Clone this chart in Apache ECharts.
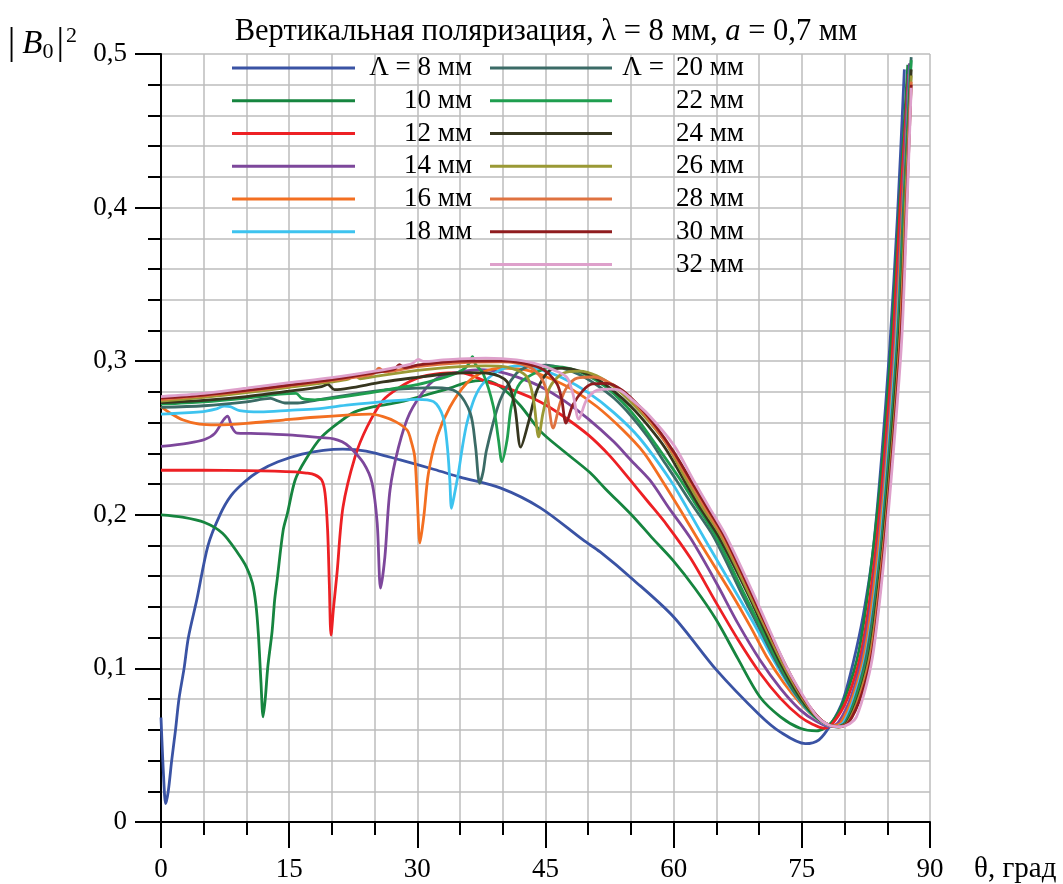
<!DOCTYPE html>
<html>
<head>
<meta charset="utf-8">
<script src="https://cdn.jsdelivr.net/npm/echarts@6/dist/echarts.min.js"></script>
<style>html,body{margin:0;padding:0;background:#fff}#c{width:1063px;height:884px}</style>
</head>
<body>
<div id="c"></div>
<script>
// Λ values (mm) and their series names
const periods = ['8 мм','10 мм','12 мм','14 мм','16 мм','18 мм','20 мм','22 мм','24 мм','26 мм','28 мм','30 мм','32 мм'];
const colors = ['#3a53a4','#16853f','#ed2024','#7d479b','#f36f21','#3dc3ef','#3b6b66','#1f9e4f','#36361f','#9a9935','#df7240','#8f1c1f','#dea0cb'];
const xTicks = [0,15,30,45,60,75,90];
const yTicks = [0,0.1,0.2,0.3,0.4,0.5];

// [theta (deg), |B0|^2]
const L8 = [[0,0.068],[0.3,0.03],[0.55,0.012],[0.85,0.02],[1.25,0.04],[1.7,0.06],[2.1,0.08],[2.7,0.1],[3.2,0.12],[4.2,0.145],[5.5,0.18],[6.9,0.2],[8.2,0.2125],[9.8,0.2215],[11.5,0.2285],[13.7,0.2345],[16.5,0.2395],[19,0.242],[21.3,0.2428],[24,0.2415],[28,0.2357],[32,0.2295],[35,0.2245],[39.7,0.2175],[44.4,0.2045],[49.4,0.1836],[51.4,0.1758],[55.3,0.1576],[60,0.1335],[65,0.099],[70,0.07],[72.5,0.0585],[75.4,0.051],[77,0.0535],[78.5,0.0645],[79.8,0.079],[81,0.1035],[82.2,0.135],[83.3,0.175],[84.3,0.235],[85.3,0.31],[86.2,0.395],[87,0.49]];
const L10 = [[0,0.2],[2.5,0.1985],[5.1,0.195],[7.2,0.188],[9,0.175],[10,0.166],[10.7,0.1555],[11.1,0.142],[11.4,0.122],[11.7,0.091],[11.95,0.0685],[12.2,0.08],[12.5,0.101],[13,0.124],[13.3,0.1445],[13.6,0.158],[14.3,0.19],[14.8,0.201],[15.7,0.2227],[16.9,0.2357],[18.8,0.2507],[21.2,0.2617],[22.7,0.267],[25,0.2705],[28,0.2735],[31,0.278],[33.8,0.2825],[35.8,0.2862],[37.7,0.2875],[39.7,0.2835],[42,0.2715],[44.4,0.2545],[47,0.242],[50.2,0.2275],[52,0.217],[55.3,0.1986],[57.4,0.1855],[59.9,0.1705],[62.5,0.152],[65,0.1315],[67.5,0.1065],[70.1,0.0814],[72.5,0.0685],[74.8,0.061],[76.7,0.0593],[78.5,0.065],[80,0.08],[81.7,0.112],[83.2,0.17],[84.5,0.24],[85.5,0.315],[86.4,0.4],[87.4,0.493]];
const L12 = [[0,0.229],[5,0.229],[10,0.2288],[15.7,0.228],[17,0.2272],[18,0.226],[18.8,0.2227],[19.2,0.214],[19.5,0.19],[19.7,0.155],[19.9,0.1217],[20.2,0.14],[20.6,0.162],[21.3,0.205],[22.7,0.2376],[24.1,0.257],[26,0.2747],[28,0.2832],[30,0.289],[32.7,0.292],[35,0.2925],[38.2,0.2865],[41,0.2815],[44.4,0.2735],[47,0.2645],[50,0.252],[52.5,0.2385],[54.9,0.2227],[57,0.2085],[59.2,0.1935],[62,0.1715],[65,0.1425],[67.5,0.119],[70.1,0.097],[72.5,0.0805],[74.8,0.0685],[76.3,0.0635],[77.6,0.061],[78.6,0.064],[80.3,0.08],[82,0.112],[83.5,0.17],[84.7,0.24],[85.7,0.315],[86.5,0.4],[87.5,0.487]];
const L14 = [[0,0.2445],[3.2,0.2467],[5.1,0.249],[6.3,0.253],[7.3,0.2617],[7.8,0.2643],[8.3,0.257],[8.9,0.2532],[10.5,0.253],[14.9,0.252],[18.8,0.2502],[20.2,0.2495],[21.2,0.2475],[22.1,0.244],[23.7,0.2337],[24.7,0.2207],[25.3,0.1947],[25.7,0.1523],[26.2,0.1725],[26.8,0.216],[27.8,0.244],[29.1,0.266],[31.1,0.283],[32.7,0.29],[35,0.293],[37.5,0.2945],[40,0.2925],[42.5,0.288],[44.4,0.2835],[47,0.275],[50,0.2625],[53,0.2475],[55,0.2355],[57.2,0.2227],[59.5,0.204],[62,0.1845],[65,0.1556],[67.5,0.1295],[70.1,0.1055],[72.5,0.087],[74.8,0.073],[76.7,0.0655],[78.3,0.062],[79.3,0.065],[80.8,0.082],[82.2,0.112],[83.7,0.17],[84.9,0.24],[85.9,0.315],[86.7,0.4],[87.6,0.494]];
const L16 = [[0,0.2704],[1,0.2665],[2.6,0.2617],[4.5,0.259],[6.5,0.2585],[10,0.2595],[14.3,0.2617],[18,0.2635],[22.1,0.265],[24.5,0.2655],[26,0.2639],[27.5,0.2605],[28.8,0.2552],[29.3,0.2475],[29.7,0.2376],[30,0.2096],[30.3,0.1816],[30.55,0.19],[30.8,0.201],[31.3,0.227],[32.3,0.2507],[33.8,0.27],[35.8,0.2858],[37.7,0.293],[40,0.2955],[42.5,0.2945],[45,0.29],[48,0.282],[51,0.2705],[54,0.2555],[56.5,0.2405],[58.6,0.2227],[60.8,0.203],[63.1,0.1816],[67,0.1465],[69,0.127],[70.9,0.1074],[72.9,0.0905],[74.8,0.0775],[76.8,0.067],[78.7,0.0625],[79.6,0.065],[81,0.082],[82.4,0.112],[83.8,0.17],[85,0.24],[86,0.315],[86.8,0.4],[87.7,0.49]];
const L18 = [[0,0.2656],[4.6,0.267],[6.5,0.269],[7.4,0.2708],[8.1,0.2704],[9.2,0.2678],[11.6,0.267],[15,0.268],[18.2,0.269],[22,0.2715],[26,0.2737],[29.9,0.2752],[31.9,0.2737],[33,0.2639],[33.5,0.245],[33.8,0.2227],[34,0.2042],[34.3,0.212],[34.8,0.227],[35.3,0.245],[35.8,0.2596],[36.7,0.276],[37.7,0.2856],[39.7,0.2943],[42,0.297],[44.4,0.2945],[47,0.289],[50,0.2795],[53,0.2665],[56,0.25],[59.6,0.2227],[61.5,0.205],[63.9,0.1816],[67.8,0.1445],[69.8,0.125],[71.7,0.1055],[73.6,0.088],[75.6,0.073],[77.5,0.0645],[79,0.062],[79.9,0.065],[81.2,0.082],[82.6,0.112],[84,0.17],[85.1,0.24],[86.1,0.315],[86.9,0.4],[87.7,0.492]];
const L20 = [[0,0.27],[5,0.271],[10,0.2735],[12.8,0.2758],[13.5,0.2745],[14.5,0.2728],[16,0.2728],[18.2,0.2747],[22,0.278],[26,0.2812],[30,0.2825],[32,0.2827],[34.6,0.2801],[36.2,0.2661],[36.8,0.245],[37.3,0.2205],[37.7,0.228],[38.1,0.2422],[39.7,0.2747],[41.6,0.2921],[43,0.2965],[45,0.2975],[47,0.2955],[49,0.2912],[51,0.2845],[53,0.276],[55,0.2645],[57,0.2505],[59,0.2335],[60.3,0.2227],[62,0.208],[64.7,0.1855],[68.1,0.147],[70,0.1265],[72,0.1045],[74,0.0855],[75.8,0.0725],[77.5,0.065],[79.1,0.062],[80.1,0.065],[81.4,0.083],[82.7,0.112],[84.1,0.17],[85.2,0.24],[86.2,0.315],[86.9,0.4],[87.8,0.498]];
const L22 = [[0,0.272],[5,0.2735],[10,0.276],[14,0.2785],[15.8,0.279],[16.5,0.2758],[18,0.2748],[20,0.2758],[24,0.279],[28,0.283],[30,0.2848],[32.7,0.2887],[34.5,0.292],[35.6,0.2955],[36.1,0.299],[36.45,0.303],[36.8,0.298],[37.7,0.292],[38.9,0.2705],[39.5,0.2487],[39.9,0.2346],[40.5,0.2487],[41,0.2704],[42,0.2856],[44.4,0.294],[46,0.2965],[48,0.295],[50,0.2905],[52,0.2835],[54,0.2735],[56,0.2605],[58,0.245],[60.8,0.2227],[62.5,0.2075],[65,0.1855],[68.3,0.148],[70.3,0.1255],[72.3,0.1035],[74.3,0.0845],[76,0.0715],[77.7,0.0645],[79.2,0.062],[80.2,0.065],[81.5,0.083],[82.9,0.112],[84.2,0.17],[85.3,0.24],[86.3,0.315],[87,0.4],[87.8,0.496]];
const L24 = [[0,0.273],[5,0.2745],[10,0.277],[15,0.2805],[18.8,0.2835],[19.5,0.285],[20.3,0.2815],[22,0.2825],[26,0.2865],[30,0.2895],[33,0.2915],[36,0.2925],[38.5,0.292],[40.5,0.2867],[41.4,0.2705],[42.1,0.244],[43,0.26],[44,0.281],[45.5,0.294],[47,0.2955],[49,0.2935],[51,0.2885],[53,0.2805],[55,0.2705],[57,0.258],[59,0.2435],[61.2,0.2227],[63,0.2055],[65.3,0.1855],[68.6,0.1495],[70.6,0.1255],[72.6,0.1025],[74.6,0.083],[76.3,0.0705],[77.8,0.064],[79.3,0.062],[80.3,0.065],[81.7,0.083],[83,0.112],[84.3,0.17],[85.4,0.24],[86.4,0.315],[87.1,0.4],[87.8,0.49]];
const L26 = [[0,0.274],[5,0.2765],[10,0.2795],[15,0.283],[20,0.2865],[22,0.2885],[22.6,0.291],[23.3,0.2885],[25,0.29],[30,0.294],[35,0.2965],[38,0.297],[40.5,0.2962],[42.8,0.29],[43.6,0.2747],[44.2,0.2507],[44.7,0.266],[45.5,0.283],[47,0.292],[49,0.2935],[51,0.2905],[53,0.2835],[55,0.2735],[57,0.2615],[59,0.2475],[61.5,0.2227],[63.3,0.2055],[65.6,0.1855],[68.8,0.149],[70.9,0.1245],[72.9,0.1015],[74.9,0.082],[76.5,0.07],[78,0.0635],[79.3,0.062],[80.4,0.065],[81.8,0.083],[83.1,0.112],[84.4,0.17],[85.5,0.24],[86.5,0.315],[87.1,0.4],[87.8,0.486]];
const L28 = [[0,0.275],[5,0.2775],[10,0.2805],[15,0.284],[20,0.2875],[24.8,0.2915],[25.5,0.2955],[26.2,0.293],[30,0.2965],[35,0.299],[40,0.2995],[43,0.2965],[44.4,0.29],[45.1,0.281],[45.9,0.2565],[46.7,0.2727],[47.5,0.283],[48.7,0.289],[50.6,0.2897],[52,0.2875],[54,0.2805],[56,0.2695],[58,0.2555],[60,0.2395],[61.8,0.2227],[63.7,0.2045],[65.8,0.1855],[69,0.1495],[71,0.1255],[73,0.1025],[75,0.0825],[76.6,0.07],[78,0.0635],[79.4,0.062],[80.5,0.065],[81.9,0.083],[83.2,0.112],[84.4,0.17],[85.6,0.24],[86.5,0.315],[87.2,0.4],[87.8,0.482]];
const L30 = [[0,0.276],[5,0.278],[10,0.281],[15,0.2845],[20,0.288],[25,0.2925],[27.3,0.2948],[27.9,0.2978],[28.5,0.2958],[30,0.2975],[35,0.3],[40,0.3002],[44.4,0.2956],[46.3,0.2856],[46.9,0.275],[47.4,0.2597],[48.2,0.2715],[49.4,0.281],[50.5,0.2852],[52.2,0.2856],[54,0.281],[56,0.2705],[58,0.257],[60,0.241],[62,0.2225],[64,0.204],[66,0.1855],[69.1,0.149],[71.1,0.125],[73.1,0.102],[75,0.0825],[76.7,0.0695],[78,0.0635],[79.4,0.062],[80.5,0.065],[82,0.083],[83.3,0.112],[84.5,0.17],[85.6,0.24],[86.6,0.315],[87.25,0.4],[87.8,0.48]];
const L32 = [[0,0.277],[5,0.279],[10,0.2825],[15,0.286],[20,0.2893],[25,0.2935],[28,0.2965],[29.4,0.2985],[30.1,0.3012],[30.8,0.2998],[33,0.3008],[35,0.3015],[38,0.302],[41.6,0.3008],[44.4,0.2975],[46,0.2942],[47.5,0.2895],[48.2,0.279],[48.9,0.2623],[49.8,0.2747],[51,0.281],[52.5,0.2818],[53.7,0.281],[55,0.2755],[57,0.2655],[60,0.2455],[62.3,0.2227],[64.2,0.2045],[66.2,0.1855],[69.3,0.149],[71.3,0.124],[73.2,0.101],[75,0.0835],[76.8,0.0685],[78.2,0.063],[79.5,0.062],[80.6,0.064],[81.4,0.0685],[82.6,0.09],[83.4,0.112],[84.6,0.17],[85.7,0.24],[86.7,0.315],[87.3,0.4],[87.8,0.478]];

const allData = [L8,L10,L12,L14,L16,L18,L20,L22,L24,L26,L28,L30,L32];
const FONT = 'Liberation Serif';

const chart = echarts.init(document.getElementById('c'), null, {renderer:'canvas'});
const series = periods.map((name,i)=>({
  name, type:'line', data: allData[i], showSymbol:false, smooth:0.3,
  lineStyle:{width:2.8, color:colors[i]}, itemStyle:{color:colors[i]}, z: 2+i, animation:false
}));
const leftNames = periods.slice(0,6), rightNames = periods.slice(6);
const LF = 27;
chart.setOption({
  animation:false,
  color: colors,
  title:{
    left:541, top:11, textAlign:'center',
    text:'{n|Вертикальная поляризация, λ = 8 мм, }{i|a}{n| = 0,7 мм}',
    textStyle:{fontWeight:'normal',rich:{n:{fontFamily:FONT,fontSize:30.5,fontWeight:'normal',color:'#000'},i:{fontFamily:FONT,fontSize:30.5,fontWeight:'normal',fontStyle:'italic',color:'#000'}}}
  },
  grid:{left:161,right:133,top:54,bottom:62,containLabel:false},
  legend:[{
    data:leftNames, orient:'vertical', left:232, top:54.5, padding:0, itemWidth:123, itemHeight:3, icon:'rect', itemGap:5.75,
    formatter: n => n==='8 мм' ? '{t|Λ = 8 мм}' : '{t|'+n+'}',
    textStyle:{fontFamily:FONT,fontSize:LF,color:'#000',lineHeight:27,rich:{t:{width:112,align:'right',fontFamily:FONT,fontSize:LF,lineHeight:27}}}
  },{
    data:rightNames, orient:'vertical', left:490, top:54.5, padding:0, itemWidth:122, itemHeight:3, icon:'rect', itemGap:5.75,
    formatter: n => n==='20 мм' ? '{p|Λ = }{v|20 мм}' : '{p|}{v|'+n+'}',
    textStyle:{fontFamily:FONT,fontSize:LF,color:'#000',lineHeight:27,rich:{p:{width:59,align:'right',fontFamily:FONT,fontSize:LF,lineHeight:27},v:{fontFamily:FONT,fontSize:LF,lineHeight:27}}}
  }],
  xAxis:{
    type:'value', min:0, max:90, interval:15,
    name:'θ, град', nameLocation:'end', nameGap:44,
    nameTextStyle:{fontFamily:FONT,fontSize:29,color:'#000',verticalAlign:'top',padding:[33,0,0,0]},
    axisLine:{lineStyle:{color:'#000',width:2}},
    axisTick:{length:26,lineStyle:{color:'#000',width:2}},
    minorTick:{show:true,splitNumber:3,length:13,lineStyle:{color:'#000',width:2}},
    splitLine:{show:true,lineStyle:{color:'#bdbdbd',width:1.5}},
    minorSplitLine:{show:true,lineStyle:{color:'#bdbdbd',width:1.5}},
    axisLabel:{fontFamily:FONT,fontSize:27,color:'#000',margin:34,
      customValues: xTicks, formatter: v => String(v)}
  },
  yAxis:{
    type:'value', min:0, max:0.5, interval:0.1,
    name:'{bar||}{b|B}{sub|0}{bar2||}{sup|2}', nameLocation:'end', nameGap:10,
    nameTextStyle:{align:'right',verticalAlign:'middle',padding:[0,84,0,0],
      rich:{bar:{fontFamily:FONT,fontSize:38,color:'#000',padding:[0,7,0,0]},
            bar2:{fontFamily:FONT,fontSize:38,color:'#000',padding:[0,2,0,3]},
            b:{fontFamily:FONT,fontSize:33,fontStyle:'italic',color:'#000'},
            sub:{fontFamily:FONT,fontSize:22,color:'#000',verticalAlign:'bottom',padding:[14,0,0,0]},
            sup:{fontFamily:FONT,fontSize:22,color:'#000',verticalAlign:'top',padding:[0,0,16,0]}}},
    axisLine:{show:true,lineStyle:{color:'#000',width:2}},
    axisTick:{show:true,length:26,lineStyle:{color:'#000',width:2}},
    minorTick:{show:true,splitNumber:5,length:13,lineStyle:{color:'#000',width:2}},
    splitLine:{show:true,lineStyle:{color:'#bdbdbd',width:1.5}},
    minorSplitLine:{show:true,lineStyle:{color:'#bdbdbd',width:1.5}},
    axisLabel:{fontFamily:FONT,fontSize:27,color:'#000',margin:34,
      customValues: yTicks,
      formatter: v => { const r = Math.round(v*10)/10; return r===0 ? '0' : r.toFixed(1).replace('.',','); }}
  },
  series
});
</script>
</body>
</html>
